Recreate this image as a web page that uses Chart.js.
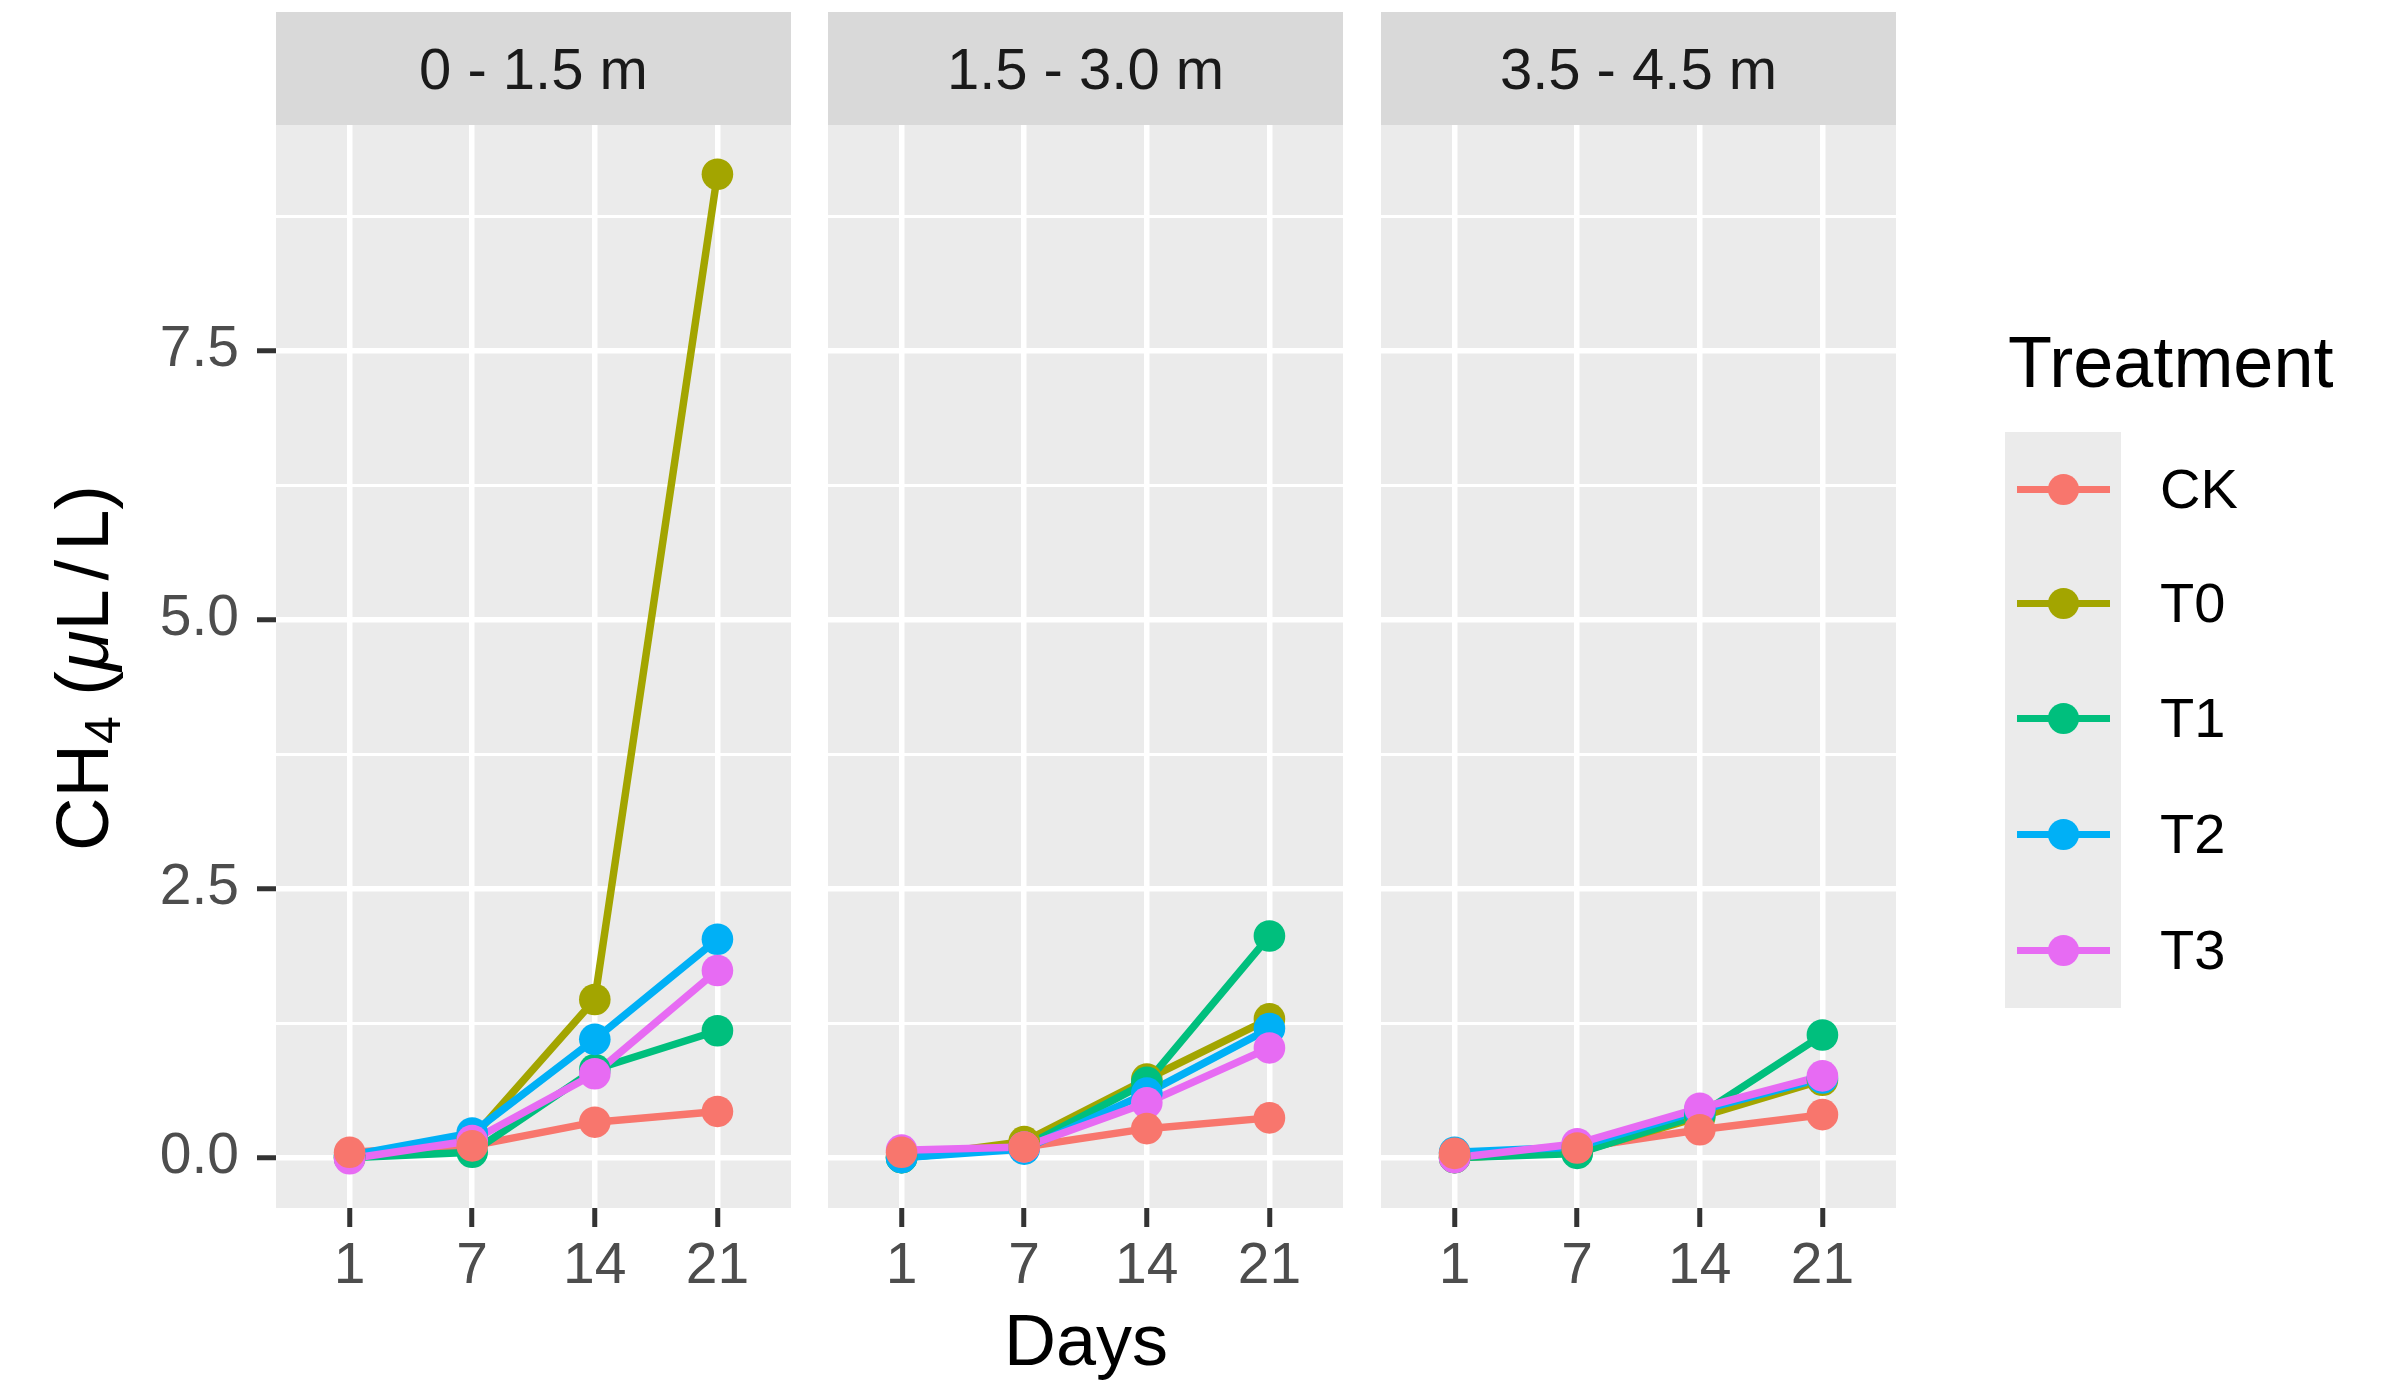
<!DOCTYPE html>
<html>
<head>
<meta charset="utf-8">
<script src="https://cdn.jsdelivr.net/npm/chart.js@4.4.0/dist/chart.umd.min.js"></script>
<style>
  body { margin: 0; background: #ffffff; font-family: "Liberation Sans", Arial, sans-serif; }
  #fig { position: relative; width: 2382px; height: 1381px; overflow: hidden; }
  canvas { position: absolute; top: 125px; }
  .strip { position: absolute; top: 12px; width: 515px; height: 113px; background: #D9D9D9;
           display: flex; align-items: center; justify-content: center; font-size: 58px; color: #1A1A1A; }
  .title { position: absolute; font-size: 72px; line-height: 72px; color: #000; white-space: nowrap; }
  #ytitle { left: 83px; top: 668px; font-size: 74px; transform: translate(-50%, -50%) rotate(-90deg); }
  #ytitle sub { font-size: 50px; vertical-align: -12px; line-height: 0; }
  #ytitle .sl { margin: 0 9px; }
  #xtitle { left: 1086px; top: 1304px; transform: translateX(-50%); }
  #legtitle { left: 2008px; top: 326px; }
  #keys { position: absolute; left: 2005px; top: 432px; width: 116px; height: 576px; background: #EBEBEB; }
  .key { position: absolute; left: 12px; width: 93px; height: 7px; margin-top: -3.5px; }
  .dot { position: absolute; left: 31px; top: -12px; width: 31px; height: 31px; border-radius: 50%; }
  .klabel { position: absolute; left: 2160px; font-size: 56px; line-height: 56px; color: #000; margin-top: -28px; }
</style>
</head>
<body>
<div id="fig">
  <canvas id="p0" width="791" height="1175" style="left:0px"></canvas>
  <canvas id="p1" width="515" height="1175" style="left:828px"></canvas>
  <canvas id="p2" width="515" height="1175" style="left:1381px"></canvas>
  <div class="strip" style="left:276px"></div>
  <div class="strip" style="left:828px"></div>
  <div class="strip" style="left:1381px"></div>
  <div class="title" id="ytitle">CH<sub>4</sub> (<i>μ</i>L<span class="sl">/</span>L)</div>
  <div class="title" id="xtitle">Days</div>
  <div class="title" id="legtitle">Treatment</div>
  <div id="keys"></div>
</div>
<script>
// categories
const days = ['1', '7', '14', '21'];
const depths = ['0 - 1.5 m', '1.5 - 3.0 m', '3.5 - 4.5 m'];
const treatments = ['CK', 'T0', 'T1', 'T2', 'T3'];
const colors = ['#F8766D', '#A3A500', '#00BF7D', '#00B0F6', '#E76BF3'];

// CH4 values (uL/L), days 1, 7, 14, 21
// 0 - 1.5 m
const ck_a = [0.05, 0.11, 0.33, 0.43];
const t0_a = [0.00, 0.18, 1.47, 9.14];
const t1_a = [0.00, 0.05, 0.82, 1.18];
const t2_a = [0.02, 0.23, 1.10, 2.03];
const t3_a = [-0.01, 0.16, 0.78, 1.74];
// 1.5 - 3.0 m
const ck_b = [0.05, 0.10, 0.27, 0.37];
const t0_b = [0.00, 0.15, 0.73, 1.29];
const t1_b = [0.00, 0.10, 0.70, 2.06];
const t2_b = [0.00, 0.08, 0.60, 1.20];
const t3_b = [0.07, 0.10, 0.51, 1.02];
// 3.5 - 4.5 m
const ck_c = [0.04, 0.09, 0.26, 0.40];
const t0_c = [0.00, 0.05, 0.38, 0.72];
const t1_c = [0.00, 0.04, 0.40, 1.14];
const t2_c = [0.05, 0.10, 0.44, 0.74];
const t3_c = [0.00, 0.13, 0.46, 0.76];

// y axis tick labels
const yTicks = [0, 2.5, 5.0, 7.5];

const panels = [
    [ck_a, t0_a, t1_a, t2_a, t3_a],
    [ck_b, t0_b, t1_b, t2_b, t3_b],
    [ck_c, t0_c, t1_c, t2_c, t3_c]
];

// ggplot style limits: data range plus 5% each side
const allVals = panels.flat(2);
const lo = Math.min(...allVals), hi = Math.max(...allVals);
const yMin = lo - (hi - lo) * 0.05;
const yMax = hi + (hi - lo) * 0.05;
// major + minor grid
const yGrid = [];
yTicks.forEach(v => { yGrid.push(v); yGrid.push(v + 1.25); });

const tickFont = { family: 'Liberation Sans', size: 57 };
const isMajor = v => yTicks.includes(v);

// grey panel background
const panelBg = {
    id: 'panelBg',
    beforeDraw(chart) {
        const a = chart.chartArea, ctx = chart.ctx;
        ctx.save();
        ctx.fillStyle = '#EBEBEB';
        ctx.fillRect(a.left, a.top, a.right - a.left, a.bottom - a.top);
        ctx.restore();
    }
};

function noPad(s) {
    s.paddingTop = 0;
    s.paddingBottom = 0;
    s.paddingLeft = 0;
    s.paddingRight = 0;
}

function makePanel(id, values, first) {
    const datasets = [];
    // lines first (below every point), T3 line on top of the lines
    values.forEach((vals, i) => {
        datasets.push({
            data: vals.map((v, k) => ({ x: k + 1, y: v })),
            borderColor: colors[i],
            borderWidth: 7.5,
            borderJoinStyle: 'round',
            pointRadius: 0,
            tension: 0,
            clip: false,
            order: 20 - i
        });
    });
    // points, CK drawn last
    const pointOrder = [0, 4, 3, 2, 1];
    values.forEach((vals, i) => {
        datasets.push({
            data: vals.map((v, k) => ({ x: k + 1, y: v })),
            showLine: false,
            pointRadius: 15.8,
            pointBorderWidth: 0,
            pointBackgroundColor: colors[i],
            clip: false,
            order: pointOrder[i]
        });
    });

    return new Chart(document.getElementById(id), {
        type: 'line',
        data: { datasets: datasets },
        options: {
            responsive: false,
            animation: false,
            events: [],
            layout: { padding: 0, autoPadding: false },
            plugins: { legend: { display: false }, tooltip: { enabled: false } },
            scales: {
                x: {
                    type: 'linear',
                    min: 0.4,
                    max: 4.6,
                    afterBuildTicks: s => { s.ticks = days.map((d, i) => ({ value: i + 1 })); },
                    afterFit: s => { s.height = 92; noPad(s); },
                    ticks: {
                        callback: v => days[v - 1],
                        font: tickFont,
                        color: '#4D4D4D',
                        padding: 6,
                        maxRotation: 0,
                        autoSkip: false
                    },
                    grid: { color: '#FFFFFF', lineWidth: 5.5, tickColor: '#333333', tickWidth: 5, tickLength: 19 },
                    border: { display: false }
                },
                y: {
                    type: 'linear',
                    min: yMin,
                    max: yMax,
                    afterBuildTicks: s => { s.ticks = yGrid.map(v => ({ value: v })); },
                    afterFit: s => { s.width = first ? 276 : 0; noPad(s); },
                    ticks: {
                        display: first,
                        callback: v => isMajor(v) ? v.toFixed(1) : '',
                        font: tickFont,
                        color: '#4D4D4D',
                        padding: 18
                    },
                    grid: {
                        color: '#FFFFFF',
                        lineWidth: c => (c.tick && isMajor(c.tick.value)) ? 5.5 : 3,
                        drawTicks: first,
                        tickColor: c => (c.tick && isMajor(c.tick.value)) ? '#333333' : 'rgba(0,0,0,0)',
                        tickWidth: 5,
                        tickLength: 19
                    },
                    border: { display: false }
                }
            }
        },
        plugins: [panelBg]
    });
}

panels.forEach((vals, p) => makePanel('p' + p, vals, p === 0));

// strip labels
document.querySelectorAll('.strip').forEach((el, i) => { el.textContent = depths[i]; });

// legend
const keyBox = document.getElementById('keys');
const keyY = [489, 603, 718, 834, 950];
treatments.forEach((t, i) => {
    const k = document.createElement('div');
    k.className = 'key';
    k.style.top = (keyY[i] - 432) + 'px';
    k.style.background = colors[i];
    const d = document.createElement('div');
    d.className = 'dot';
    d.style.background = colors[i];
    k.appendChild(d);
    keyBox.appendChild(k);

    const lab = document.createElement('div');
    lab.className = 'klabel';
    lab.style.top = keyY[i] + 'px';
    lab.textContent = t;
    document.getElementById('fig').appendChild(lab);
});
</script>
</body>
</html>
